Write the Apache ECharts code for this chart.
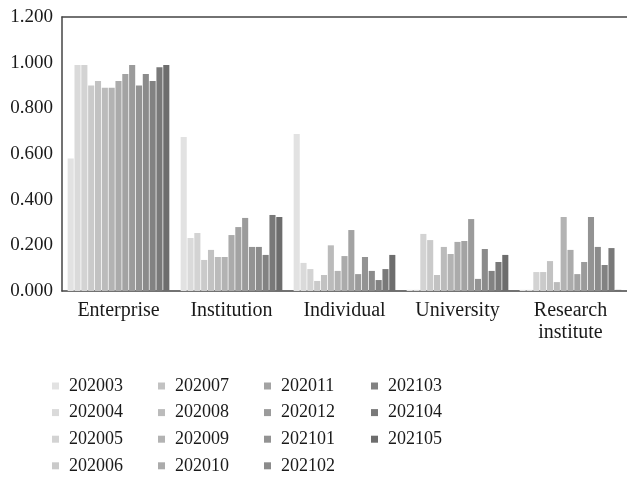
<!DOCTYPE html>
<html>
<head>
<meta charset="utf-8">
<script src="https://cdn.jsdelivr.net/npm/echarts@6/dist/echarts.min.js"></script>
<style>
  html, body { margin: 0; padding: 0; background: #fff; }
  #chart { width: 627px; height: 477px; }
</style>
</head>
<body>
<div id="chart"></div>
<script>
// categories and months
const categories = ['Enterprise', 'Institution', 'Individual', 'University', 'Research\ninstitute'];
const months = ['202003', '202004', '202005', '202006', '202007', '202008', '202009', '202010',
    '202011', '202012', '202101', '202102', '202103', '202104', '202105'];
const yTicks = [0, 0.2, 0.4, 0.6, 0.8, 1.0, 1.2];

// one array per category, values in month order
const enterprise = [0.58, 0.99, 0.99, 0.90, 0.92, 0.89, 0.89, 0.92, 0.95, 0.99, 0.90, 0.95, 0.92, 0.98, 0.99];
const institution = [0.674, 0.232, 0.254, 0.136, 0.18, 0.149, 0.149, 0.245, 0.28, 0.32, 0.193, 0.193, 0.158, 0.333, 0.324];
const individual = [0.688, 0.123, 0.096, 0.044, 0.07, 0.20, 0.088, 0.153, 0.267, 0.074, 0.149, 0.088, 0.048, 0.096, 0.158];
const university = [0.005, 0.005, 0.25, 0.223, 0.07, 0.193, 0.162, 0.215, 0.219, 0.315, 0.053, 0.184, 0.088, 0.127, 0.158];
const research = [0.005, 0.005, 0.083, 0.083, 0.131, 0.039, 0.324, 0.18, 0.074, 0.127, 0.324, 0.193, 0.114, 0.188, 0.005];

// grays from light to dark
const colors = ['#e2e2e2', '#dadada', '#d3d3d3', '#cacaca', '#c2c2c2', '#bbbbbb', '#b3b3b3', '#ababab',
    '#a3a3a3', '#9b9b9b', '#939393', '#8b8b8b', '#828282', '#797979', '#6d6d6d'];

const font = '"Liberation Serif", "DejaVu Serif", serif';
const byCategory = [enterprise, institution, individual, university, research];

const chart = echarts.init(document.getElementById('chart'));

const series = months.map((m, i) => ({
    name: m,
    type: 'bar',
    data: byCategory.map(arr => arr[i]),
    itemStyle: { color: colors[i] },
    barGap: '12%',
    barCategoryGap: '10%'
}));

// legend in 4 columns, filled top to bottom
const colLeft = [52, 158, 264, 371];
const legends = colLeft.map((x, c) => ({
    orient: 'vertical',
    left: x,
    top: 376,
    height: 110,
    padding: 0,
    itemWidth: 7,
    itemHeight: 7,
    itemGap: 6.6,
    icon: 'rect',
    data: months.slice(c * 4, c * 4 + 4),
    textStyle: { fontFamily: font, fontSize: 18, color: '#1a1a1a', lineHeight: 20, padding: [0, 0, 0, 5] }
}));

chart.setOption({
    animation: false,
    color: colors,
    legend: legends,
    grid: { left: 62, right: 0, top: 17, bottom: 186 },
    xAxis: [{
        type: 'category',
        data: categories,
        axisLine: { lineStyle: { color: '#444', width: 1.5 } },
        axisTick: { show: false },
        axisLabel: { fontFamily: font, fontSize: 20, color: '#1a1a1a', margin: 9, lineHeight: 22 }
    }, {
        type: 'category',
        position: 'top',
        data: categories,
        axisLine: { show: true, lineStyle: { color: '#444', width: 1.5 } },
        axisTick: { show: false },
        axisLabel: { show: false }
    }],
    yAxis: {
        type: 'value',
        min: yTicks[0],
        max: yTicks[yTicks.length - 1],
        interval: 0.2,
        axisLine: { show: true, lineStyle: { color: '#444', width: 1.5 } },
        axisTick: { show: false },
        splitLine: { show: false },
        axisLabel: {
            fontFamily: font, fontSize: 19, color: '#1a1a1a', margin: 9,
            formatter: v => v.toFixed(3)
        }
    },
    series: series
});
</script>
</body>
</html>
